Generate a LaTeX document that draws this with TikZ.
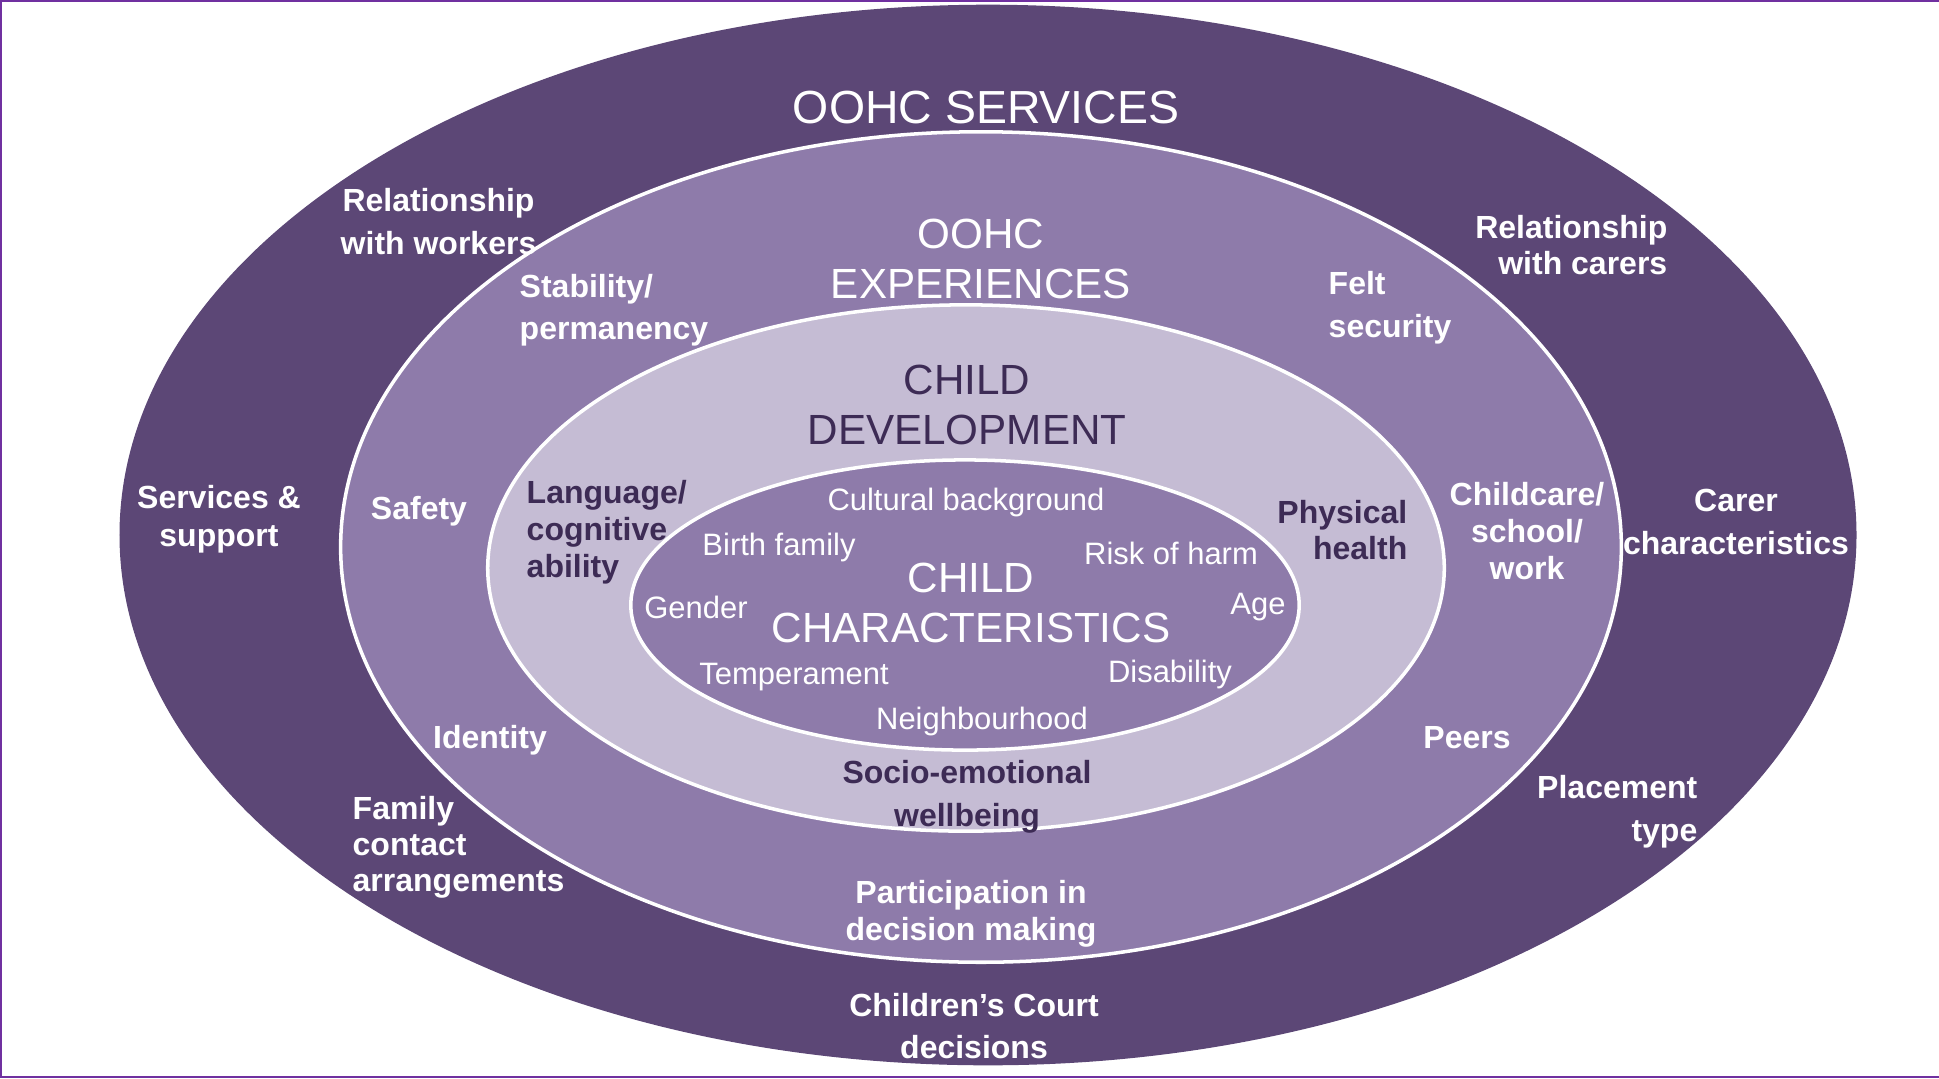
\documentclass[tikz,border=0pt]{standalone}
\usepackage{fontspec}
\setmainfont{Liberation Sans}

\definecolor{ringdark}{HTML}{5C4776}
\definecolor{ringmid}{HTML}{8E7BAA}
\definecolor{ringlight}{HTML}{C5BCD4}
\definecolor{textdark}{HTML}{3D2B55}
\definecolor{framepurple}{HTML}{7030A0}

\tikzset{
  ring/.style={draw=white, line width=1pt},
  factor/.style={font=\bfseries\fontsize{9.1}{10.6}\selectfont, text=white, align=center, inner sep=0pt},
  devfactor/.style={factor, text=textdark},
  trait/.style={font=\fontsize{8.8}{10.6}\selectfont, text=white, inner sep=0pt},
  layertitle/.style={font=\fontsize{12}{14.2}\selectfont, text=white, align=center, inner sep=0pt},
}

\begin{document}
\begin{tikzpicture}[x=0.01cm, y=-0.01cm]

            \useasboundingbox (0,0) rectangle (1939,1078);

            \def\Xa{988};   \def\Ya{535};
            \def\Xb{981};   \def\Yb{547};
            \def\Xc{966};   \def\Yc{568};
            \def\Xd{965};   \def\Yd{605};

            % frame
            \draw[framepurple, line width=0.7pt] (1939,1) -- (1,1) -- (1,1077) -- (1939,1077);

            % rings
            \fill[ringdark] (\Xa, \Ya) ellipse [x radius=8.68cm, y radius=5.30cm];
            \draw[ring, fill=ringmid] (\Xb, \Yb) ellipse [x radius=6.40cm, y radius=4.15cm];
            \draw[ring, fill=ringlight] (\Xc, \Yc) ellipse [x radius=4.78cm, y radius=2.63cm];
            \draw[ring, fill=ringmid] (\Xd, \Yd) ellipse [x radius=3.34cm, y radius=1.45cm];

            % OOHC services
            \node[layertitle, font=\fontsize{13.2}{15}\selectfont] (services) at (986, 108) {OOHC SERVICES};
            \node[factor, anchor=west, font=\bfseries\fontsize{9.1}{12.2}\selectfont] (workers) at (340, 222) {Relationship\\with workers};
            \node[factor, anchor=east, align=right, font=\bfseries\fontsize{9.1}{10.2}\selectfont] (carers) at (1668, 245) {Relationship\\with carers};
            \node[factor, font=\bfseries\fontsize{9.1}{10.8}\selectfont] (support) at (219, 519) {Services \&\\support};
            \node[factor, font=\bfseries\fontsize{9.1}{12}\selectfont] (carerchar) at (1736, 522) {Carer\\characteristics};
            \node[factor, anchor=west, align=left, font=\bfseries\fontsize{9.1}{10.2}\selectfont] (contact) at (352, 847) {Family\\contact\\arrangements};
            \node[factor, anchor=east, align=right, font=\bfseries\fontsize{9.1}{12.2}\selectfont] (placement) at (1698, 812) {Placement\\type};
            \node[factor, font=\bfseries\fontsize{9.1}{12.2}\selectfont] (court) at (974, 1026) {Children’s Court\\decisions};

            % OOHC experiences
            \node[layertitle] (experiences) at (981, 259) {OOHC\\EXPERIENCES};
            \node[factor, anchor=west, align=left, font=\bfseries\fontsize{9.1}{12}\selectfont] (stability) at (519, 310) {Stability/\\permanency};
            \node[factor, anchor=west, align=left, font=\bfseries\fontsize{9.1}{12.2}\selectfont] (felt) at (1328, 308) {Felt\\security};
            \node[factor] (safety) at (419, 511) {Safety};
            \node[factor] (childcare) at (1527, 531) {Childcare/\\school/\\work};
            \node[factor] (identity) at (490, 740) {Identity};
            \node[factor] (peers) at (1467, 738) {Peers};
            \node[factor] (participation) at (971, 914) {Participation in\\decision making};

            % child development
            \node[layertitle, text=textdark] (development) at (967, 405) {CHILD\\DEVELOPMENT};
            \node[devfactor, anchor=west, align=left] (language) at (526, 532) {Language/\\cognitive\\ability};
            \node[devfactor, anchor=east, align=right, font=\bfseries\fontsize{9.1}{10.2}\selectfont] (physical) at (1408, 530) {Physical\\health};
            \node[devfactor, font=\bfseries\fontsize{9.1}{12.2}\selectfont] (socio) at (967, 797) {Socio-emotional\\wellbeing};

            % child characteristics
            \node[layertitle] (characteristics) at (971, 603) {CHILD\\CHARACTERISTICS};
            \node[trait] (culture) at (966, 502) {Cultural background};
            \node[trait] (birth) at (779, 547) {Birth family};
            \node[trait] (risk) at (1171, 553) {Risk of harm};
            \node[trait] (gender) at (696, 607) {Gender};
            \node[trait] (age) at (1258, 607) {Age};
            \node[trait] (temper) at (794, 677) {Temperament};
            \node[trait] (disability) at (1170, 674) {Disability};
            \node[trait] (neighbour) at (982, 721) {Neighbourhood};
        \end{tikzpicture}
\end{document}
